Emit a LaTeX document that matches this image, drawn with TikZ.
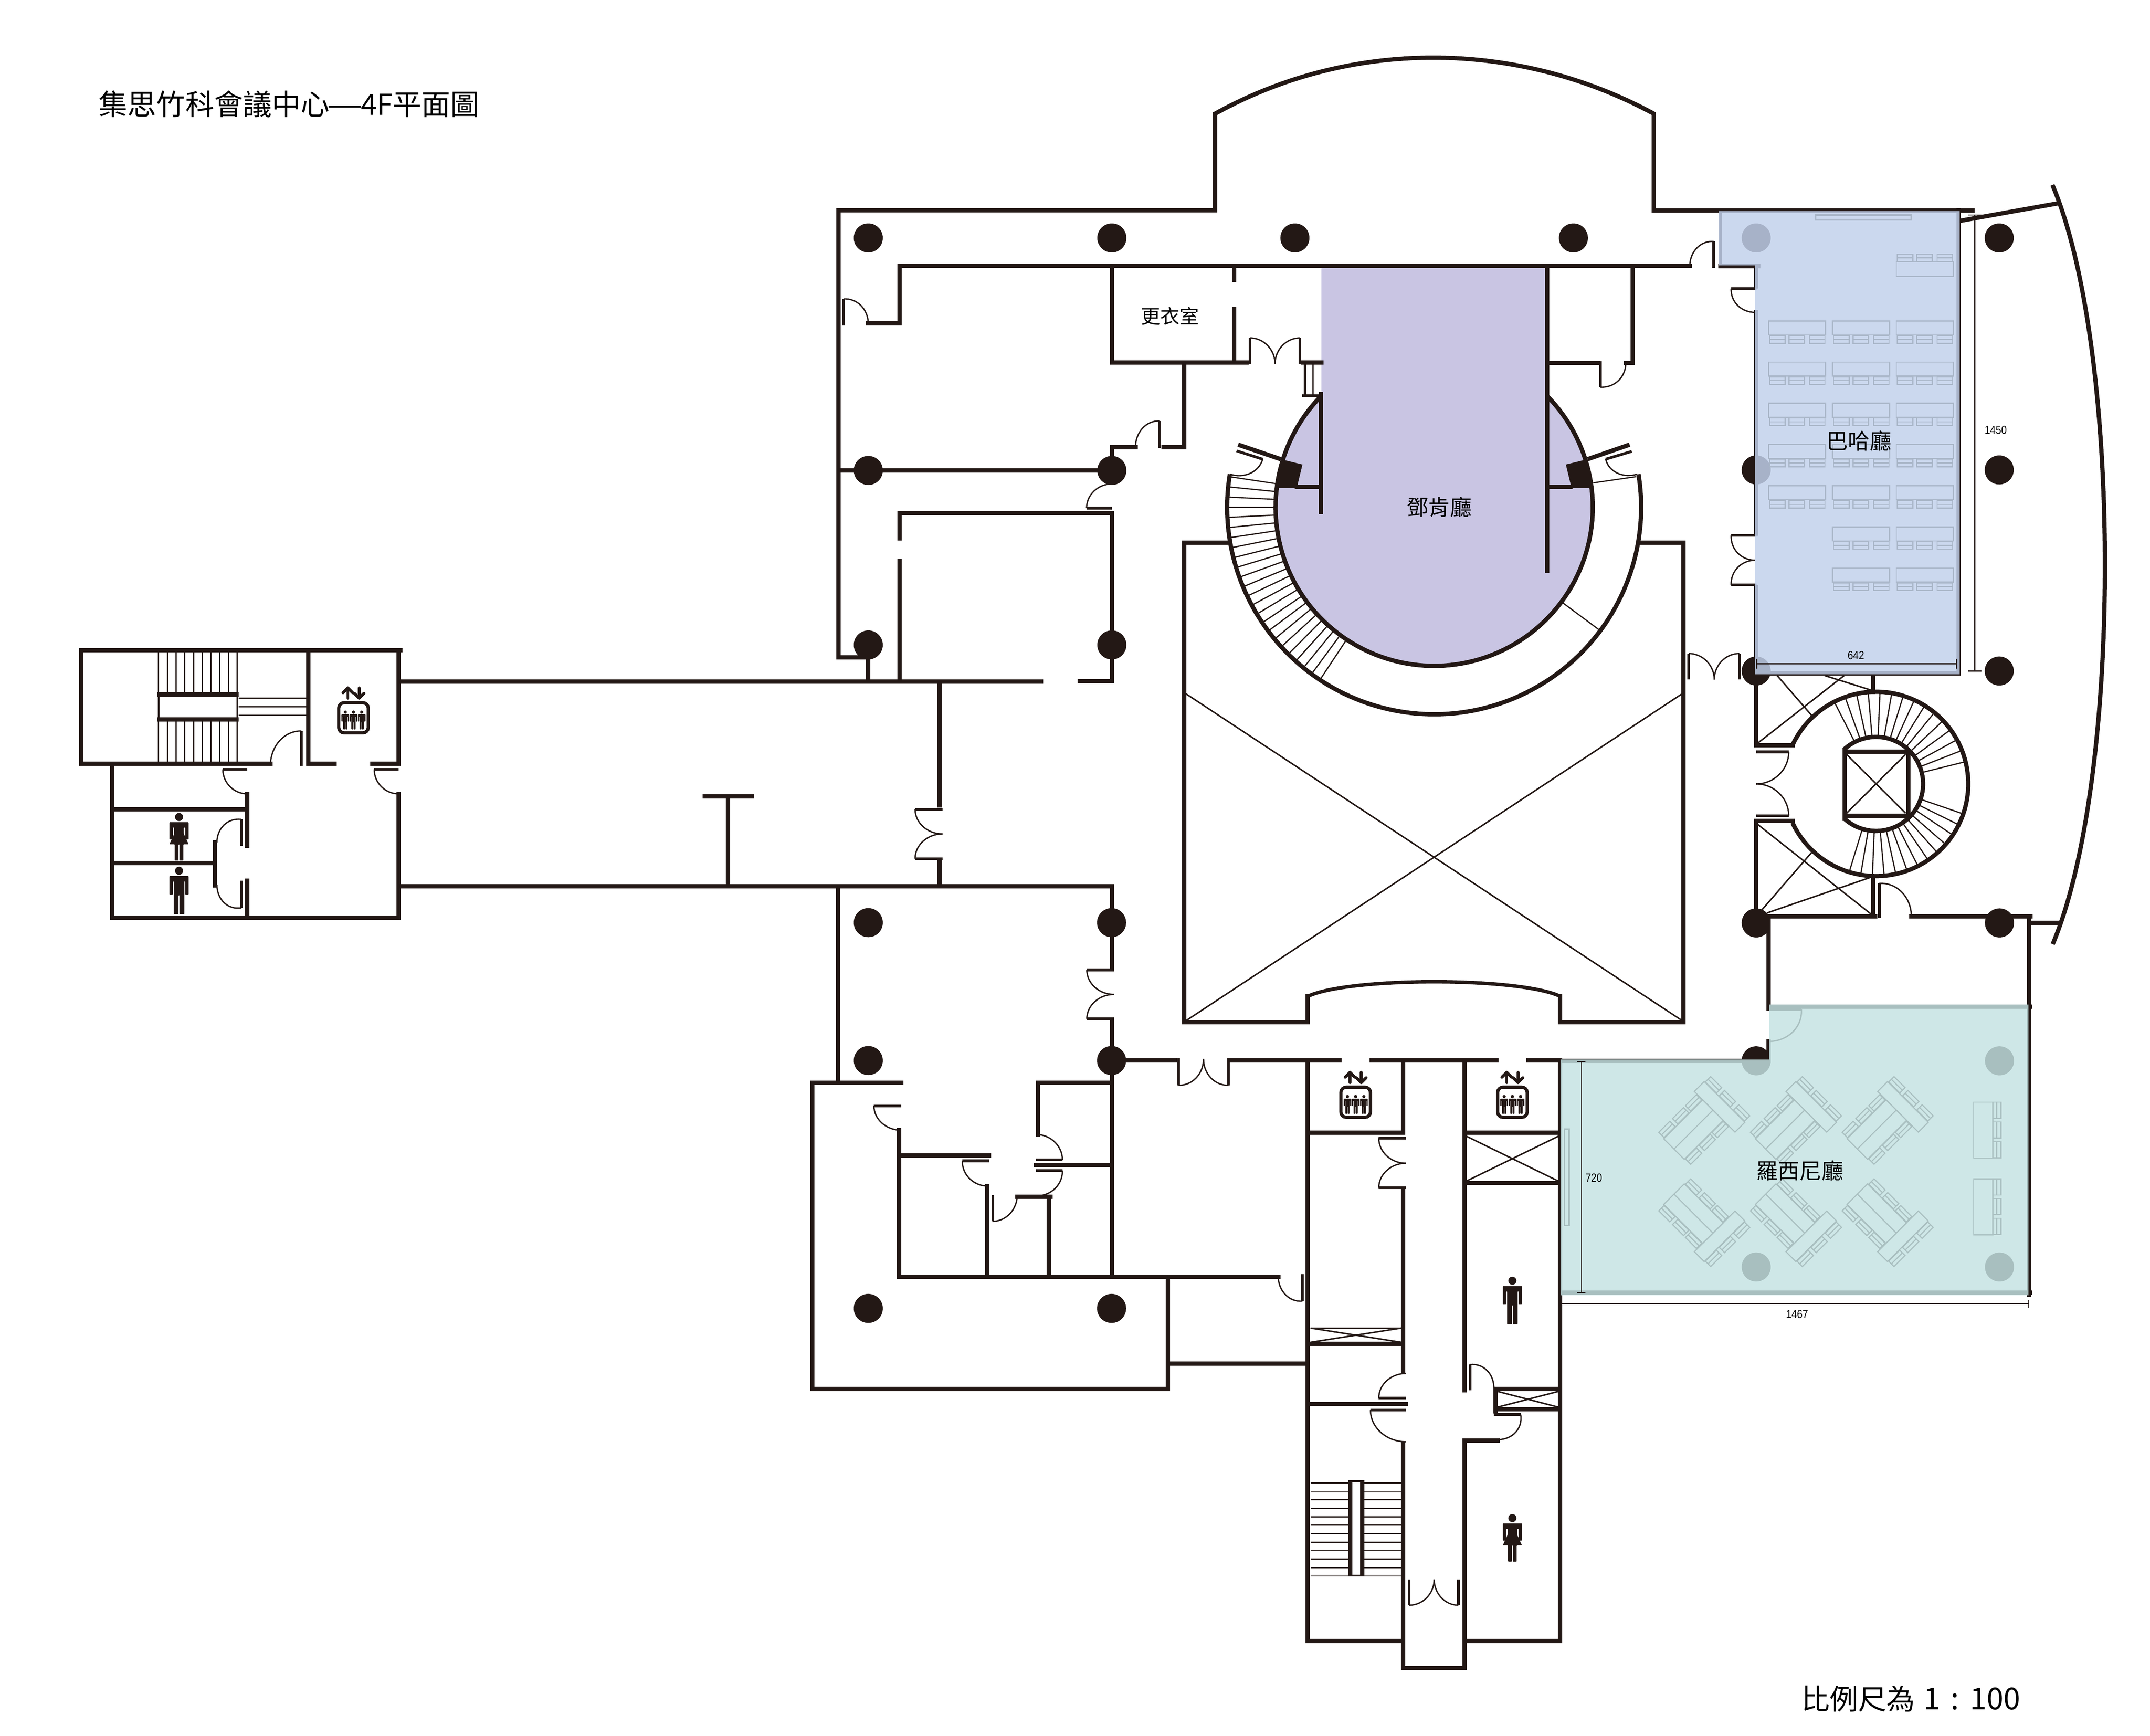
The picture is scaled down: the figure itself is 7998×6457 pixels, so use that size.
\documentclass[tikz,border=0pt]{standalone}
\usepackage{fontspec}
\setmainfont{Noto Sans CJK TC}
\newfontfamily\dimfont{Liberation Sans}
\usetikzlibrary{arrows,calc}
\definecolor{ink}{HTML}{231815}
\definecolor{duncan}{HTML}{C9C5E3}
\definecolor{bachhue}{RGB}{193,208,235}
\definecolor{rossinihue}{RGB}{196,226,226}
\definecolor{bachline}{HTML}{A9B6C8}
\definecolor{rossiniline}{HTML}{A9BFC0}
\newcommand{\doorway}[3]{
\coordinate (dc) at ($(#2)+(#3)-(#1)$);
\draw[leaf] (#1) -- (#2);
\draw[swing] (#2) .. controls ($(#2)!.55!(dc)$) and ($(#3)!.55!(dc)$) .. (#3);
}
\newcommand{\manfig}[3]{
\begin{scope}[shift={(#1,#2)},scale=#3]
\fill[ink] (0,-41) circle (8.5);
\fill[ink,rounded corners=.02cm] (-20,-30) -- (20,-30) -- (20,9) -- (13,9) -- (13,-19) -- (11,-19) -- (11,50) -- (1,50) -- (1,10) -- (-1,10) -- (-1,50) -- (-11,50) -- (-11,-19) -- (-13,-19) -- (-13,9) -- (-20,9) -- cycle;
\end{scope}
}
\newcommand{\womanfig}[3]{
\begin{scope}[shift={(#1,#2)},scale=#3]
\fill[ink] (0,-41) circle (8.5);
\fill[ink,rounded corners=.02cm] (-20,-30) -- (20,-30) -- (20,6) -- (13,6) -- (13,-19) -- (10,-19) -- (10,-6) -- (20,16) -- (9,16) -- (9,50) -- (1,50) -- (1,16) -- (-1,16) -- (-1,50) -- (-9,50) -- (-9,16) -- (-20,16) -- (-10,-6) -- (-10,-19) -- (-13,-19) -- (-13,6) -- (-20,6) -- cycle;
\end{scope}
}
\newcommand{\liftsign}[2]{
\draw[ink,line width=.12cm,rounded corners=.2cm] (#1-55,#2-56) rectangle (#1+55,#2+56);
\draw[ink,line width=.11cm,line cap=round,line join=round] (#1-21,#2-73) -- (#1-21,#2-111);
\draw[ink,line width=.11cm,line cap=round,line join=round] (#1-39,#2-93) -- (#1-21,#2-111) -- (#1-3,#2-93);
\draw[ink,line width=.11cm,line cap=round,line join=round] (#1+21,#2-111) -- (#1+21,#2-73);
\draw[ink,line width=.11cm,line cap=round,line join=round] (#1+3,#2-91) -- (#1+21,#2-73) -- (#1+39,#2-91);
\manfig{#1-30.5}{#2+8}{.71}
\manfig{#1}{#2+8}{.71}
\manfig{#1+30.5}{#2+8}{.71}
}
\newcommand{\deskrow}[3]{
\draw[#3] (#1,#2) rectangle ++(212,52);
\foreach \s in {4,76,152} {
\draw[#3] (#1+\s,#2+55) rectangle ++(58,28);
\draw[#3] (#1+\s,#2+69) -- ++(58,0);
}
}
\newcommand{\deskset}{
\draw[rossinifurn] (0,0) rectangle (205,108);
\draw[rossinifurn] (0,54) -- (205,54);
\draw[rossinifurn] (205,-44) rectangle (257,170);
\foreach \s in {-40,33,108} {
\draw[rossinifurn] (259,\s) rectangle ++(28,58);
\draw[rossinifurn] (273,\s) -- ++(0,58);
}
\foreach \s in {4,76,144} {
\draw[rossinifurn] (\s,-30) rectangle ++(58,28);
\draw[rossinifurn] (\s,-16) -- ++(58,0);
\draw[rossinifurn] (\s,110) rectangle ++(58,28);
\draw[rossinifurn] (\s,124) -- ++(58,0);
}
}
\begin{document}
\begin{tikzpicture}[x=.01cm,y=-.01cm]
\tikzstyle{every node}=[inner sep=0pt]
\tikzstyle{wall}=[ink,line width=.16cm,line cap=rect]
\tikzstyle{ringwall}=[ink,line width=.16cm]
\tikzstyle{fine}=[ink,line width=.055cm]
\tikzstyle{tread}=[ink,line width=.045cm]
\tikzstyle{leaf}=[ink,line width=.1cm]
\tikzstyle{swing}=[ink,line width=.05cm]
\tikzstyle{pillar}=[ink]
\tikzstyle{bachfurn}=[bachline,line width=.04cm]
\tikzstyle{rossinifurn}=[rossiniline,line width=.04cm]
\tikzstyle{dimline}=[ink,line width=.035cm]
\useasboundingbox (0,0) rectangle (7998,6457);
\fill[duncan] (4916,990) rectangle (5755,1887);
\fill[duncan] (5335,1887) circle (590);
\foreach \a/\b in {3230/885,4136/885,4817/885,5853/885,6533/885,7437/885,3230/1750,4136/1750,6533/1748,7437/1748,3230/2399,4136/2399,6533/2496,7437/2496,3230/3432,4135/3432,6533/3433,7438/3433,3230/3945,4135/3945,6533/3946,7438/3946,6533/4713,7438/4713,3230/4867,4135/4867} {
\fill[pillar] (\a,\b) circle (54);
}
\draw[wall] (3230,2445) -- (3119,2445) -- (3119,782) -- (4520,782) -- (4520,423) .. controls (5022,145) and (5638,145) .. (6152,423) -- (6152,783) -- (7338,783);
\draw[wall] (7294,821) -- (7652,757);
\draw[ink,line width=.16cm] (7635,688) .. controls (7895,1300) and (7895,2900) .. (7636,3512);
\draw[wall] (3230,2445) -- (3230,2533);
\draw[wall] (3346,1203) -- (3346,988) -- (6286,988);
\draw[wall] (3230,1203) -- (3346,1203);
\draw[wall] (6400,990) -- (6540,990);
\draw[ink,line width=.1cm] (6400,783) -- (6400,990);
\draw[wall] (3119,1750) -- (4136,1750);
\draw[wall] (4136,988) -- (4136,1349) -- (4637,1349);
\draw[wall] (4848,1349) -- (4916,1349);
\draw[wall] (4591,988) -- (4591,1042);
\draw[wall] (4591,1148) -- (4591,1349);
\draw[wall] (4406,1349) -- (4406,1663) -- (4329,1663);
\draw[wall] (4224,1663) -- (4136,1663) -- (4136,1750);
\draw[wall] (4136,2533) -- (4136,1909) -- (3346,1909) -- (3346,2003);
\draw[wall] (3346,2087) -- (3346,2533);
\draw[wall] (1490,2535) -- (3873,2535);
\draw[wall] (4016,2533) -- (4136,2533);
\draw[wall] (1490,3297) -- (4136,3297) -- (4136,3602);
\draw[wall] (4136,3803) -- (4136,4747);
\draw[wall] (3117,3297) -- (3117,4028);
\draw[wall] (3495,2535) -- (3495,2996);
\draw[wall] (3495,3207) -- (3495,3297);
\draw[wall] (2622,2962) -- (2797,2962);
\draw[wall] (2708,2962) -- (2708,3297);
\draw[ink,line width=.09cm] (4855,1350) -- (4855,1472);
\draw[ink,line width=.05cm] (4885,1350) -- (4885,1472);
\draw[ink,line width=.09cm] (4844,1472) -- (4920,1472);
\draw[wall] (4914,1465) -- (4914,1905);
\draw[wall] (5755,990) -- (5755,2123);
\draw[wall] (4824,1811) -- (4909,1811);
\draw[wall] (5763,1811) -- (5842,1811);
\fill[ink] (4764,1708) -- (4845,1728) -- (4824,1815) -- (4743,1815) -- cycle;
\fill[ink] (5906,1708) -- (5825,1728) -- (5846,1815) -- (5927,1815) -- cycle;
\draw[ringwall] (4606,1654) -- (4764,1708);
\draw[ringwall] (6062,1654) -- (5906,1708);
\draw[ringwall] plot[domain=-44.7:224.7,samples=120] ({5335+590*cos(\x)},{1887+590*sin(\x)});
\draw[ringwall] plot[domain=-9.2:189.2,samples=120] ({5335+770*cos(\x)},{1887+770*sin(\x)});
\foreach \t in {0,...,23} {
\draw[tread] ({5335+590*cos(188.5-\t*2.826)},{1887+590*sin(188.5-\t*2.826)}) -- ({5335+770*cos(188.5-\t*2.826)},{1887+770*sin(188.5-\t*2.826)});
}
\draw[tread] ({5335+590*cos(36.6)},{1887+590*sin(36.6)}) -- ({5335+770*cos(36.6)},{1887+770*sin(36.6)});
\draw[tread] (5927,1796) -- (6087,1773);
\draw[wall] (4406,2019) -- (4570,2019);
\draw[wall] (6096,2019) -- (6262,2019) -- (6262,3803) -- (5804,3803) -- (5804,3706);
\draw[wall] (4570,2019) -- (4406,2019) -- (4406,3803) -- (4865,3803) -- (4865,3706);
\draw[ink,line width=.13cm] (4865,3706) .. controls (5020,3634) and (5650,3634) .. (5804,3706);
\draw[fine] (4406,2577) -- (6263,3800);
\draw[fine] (6263,2577) -- (4407,3800);
\draw[wall] (6074,990) -- (6074,1350) ;
\draw[wall] (5755,1350) -- (5944,1350);
\draw[wall] (6048,1350) -- (6074,1350);
\draw[wall] (6533,990) -- (6533,1065);
\draw[wall] (6533,1162) -- (6533,1985);
\draw[wall] (6533,2185) -- (6533,2772) -- (6668,2772);
\draw[wall] (6533,3053) -- (6668,3053);
\draw[wall] (6533,3053) -- (6533,3420);
\draw[wall] (7286,783) -- (7286,2505);
\draw[wall] (6533,2505) -- (7286,2505);
\draw[wall] (6968,2507) -- (6968,2574);
\draw[wall] (6968,3260) -- (6968,3408);
\draw[ringwall] plot[domain=-155.1:155.1,samples=90] ({6979+343*cos(\x)},{2916+343*sin(\x)});
\draw[ringwall] plot[domain=-132:132,samples=70] ({6979+175*cos(\x)},{2916+175*sin(\x)});
\draw[wall] (6862,2789) -- (6862,3046);
\draw[wall] (6862,2796) -- (7099,2796) -- (7099,3034) -- (6862,3034);
\draw[fine] (6869,2806) -- (7089,3025);
\draw[fine] (7089,2806) -- (6869,3025);
\foreach \t in {0,...,14} {
\draw[tread] ({6979+175*cos(-117+\t*7.36)},{2916+175*sin(-117+\t*7.36)}) -- ({6979+343*cos(-117+\t*7.36)},{2916+343*sin(-117+\t*7.36)});
}
\foreach \t in {0,...,12} {
\draw[tread] ({6979+175*cos(19+\t*7.33)},{2916+175*sin(19+\t*7.33)}) -- ({6979+343*cos(19+\t*7.33)},{2916+343*sin(19+\t*7.33)});
}
\draw[fine] (6611,2513) -- (6740,2662);
\draw[fine] (6860,2513) -- (6539,2764);
\draw[fine] (6788,2513) -- (6960,2567);
\draw[fine] (6539,3067) -- (6960,3400);
\draw[fine] (6740,3170) -- (6553,3386);
\draw[fine] (6960,3263) -- (6573,3396);
\draw[wall] (6573,3408) -- (6976,3408);
\draw[wall] (7110,3408) -- (7553,3408);
\draw[wall] (7549,3408) -- (7549,4816);
\draw[wall] (7549,3433) -- (7654,3433);
\draw[wall] (6579,3408) -- (6579,3745) -- (7551,3745);
\draw[wall] (6579,3874) -- (6579,3946);
\draw[wall] (5804,3945) -- (5804,4816);
\draw[wall] (5804,4809) -- (7551,4809);
\draw[wall] (5804,3946) -- (6579,3946);
\draw[wall] (3022,4028) -- (3352,4028);
\draw[wall] (3022,4028) -- (3022,5167) -- (4345,5167) -- (4345,4749);
\draw[wall] (3345,4204) -- (3345,4749);
\draw[wall] (3345,4298) -- (3679,4298);
\draw[wall] (3672,4412) -- (3672,4749);
\draw[wall] (3345,4749) -- (4755,4749);
\draw[wall] (3902,4452) -- (3902,4749);
\draw[wall] (3784,4452) -- (3907,4452);
\draw[wall] (3861,4028) -- (4136,4028);
\draw[wall] (3861,4028) -- (3861,4220);
\draw[wall] (3854,4334) -- (4136,4334);
\draw[wall] (4345,5072) -- (4864,5072);
\draw[wall] (4865,3945) -- (4865,6104) -- (5220,6104);
\draw[wall] (4136,3945) -- (4370,3945);
\draw[wall] (4581,3945) -- (4983,3945);
\draw[wall] (5103,3945) -- (5566,3945);
\draw[wall] (5685,3945) -- (5804,3945);
\draw[wall] (5220,3945) -- (5220,4214);
\draw[wall] (4865,4214) -- (5220,4214);
\draw[wall] (5220,4430) -- (5220,5104);
\draw[wall] (4865,4998) -- (5220,4998);
\draw[wall] (4865,5222) -- (5230,5222);
\draw[wall] (5220,5371) -- (5220,6204) -- (5448,6204);
\draw[wall] (5448,6204) -- (5448,5358) -- (5572,5358);
\draw[wall] (5448,3945) -- (5448,5172);
\draw[wall] (5448,4214) -- (5802,4214);
\draw[wall] (5448,4400) -- (5802,4400);
\draw[wall] (5448,6104) -- (5804,6104) -- (5804,4816);
\draw[wall] (5563,5250) -- (5563,5167) -- (5804,5167);
\draw[wall] (5563,5242) -- (5804,5242);
\draw[fine] (5456,4227) -- (5796,4393);
\draw[fine] (5456,4393) -- (5796,4227);
\draw[fine] (4875,4940) -- (5213,4993);
\draw[fine] (4875,4993) -- (5213,4940);
\draw[fine] (4875,4940) -- (5213,4940);
\draw[fine] (5572,5176) -- (5796,5234);
\draw[fine] (5572,5234) -- (5796,5176);
\foreach \k in {0,...,11} {
\draw[tread] (4875,5516+\k*31.5) -- (5014,5516+\k*31.5);
\draw[tread] (5075,5516+\k*31.5) -- (5213,5516+\k*31.5);
}
\draw[ink,line width=.16cm] (5022,5507) -- (5022,5864);
\draw[ink,line width=.16cm] (5067,5507) -- (5067,5864);
\draw[ink,line width=.07cm] (5014,5510) -- (5075,5510);
\draw[ink,line width=.07cm] (5014,5861) -- (5075,5861);
\draw[wall] (302,2419) -- (1490,2419);
\draw[wall] (302,2419) -- (302,2841) -- (1006,2841);
\draw[wall] (1147,2841) -- (1245,2841);
\draw[wall] (1386,2841) -- (1483,2841);
\draw[wall] (1147,2419) -- (1147,2841);
\draw[wall] (1483,2419) -- (1483,2841);
\draw[wall] (1483,2953) -- (1483,3413) -- (417,3413) -- (417,2849);
\draw[wall] (920,2953) -- (920,3146);
\draw[wall] (920,3276) -- (920,3413);
\draw[wall] (417,3010) -- (920,3010);
\draw[wall] (417,3211) -- (800,3211);
\draw[wall] (800,3133) -- (800,3293);
\foreach \k in {0,...,9} {
\draw[tread] (590+\k*32.5,2426) -- (590+\k*32.5,2575);
\draw[tread] (590+\k*32.5,2684) -- (590+\k*32.5,2833);
}
\draw[ink,line width=.16cm] (586,2583) -- (887,2583);
\draw[ink,line width=.16cm] (586,2676) -- (887,2676);
\draw[ink,line width=.07cm] (590,2575) -- (590,2684);
\draw[ink,line width=.07cm] (883,2575) -- (883,2684);
\draw[tread] (887,2597) -- (1147,2597);
\draw[tread] (887,2629) -- (1147,2629);
\draw[tread] (887,2661) -- (1147,2661);
\doorway{3138,1211}{3138,1112}{3230,1205}
\doorway{4650,1354}{4650,1257}{4743,1354}
\doorway{4836,1354}{4836,1257}{4743,1354}
\doorway{4313,1667}{4313,1566}{4224,1663}
\doorway{4137,1890}{4042,1890}{4137,1800}
\doorway{6375,996}{6375,898}{6286,990}
\doorway{6534,1074}{6440,1074}{6529,1162}
\doorway{6534,1992}{6440,1992}{6529,2084}
\doorway{6534,2176}{6440,2176}{6529,2084}
\doorway{4600,1677}{4697,1708}{4576,1764}
\doorway{6070,1679}{5973,1708}{6090,1764}
\doorway{6282,2528}{6282,2431}{6377,2528}
\doorway{6470,2528}{6470,2431}{6377,2528}
\doorway{6533,2797}{6654,2797}{6533,2916}
\doorway{6533,3034}{6654,3034}{6533,2916}
\doorway{6991,3415}{6991,3286}{7110,3408}
\doorway{6571,3755}{6701,3755}{6579,3874}
\doorway{3506,3010}{3404,3010}{3506,3102}
\doorway{3506,3194}{3404,3194}{3506,3102}
\doorway{1121,2849}{1121,2719}{1006,2847}
\doorway{920,2862}{829,2862}{920,2953}
\doorway{1483,2862}{1392,2862}{1483,2953}
\doorway{898,3146}{898,3048}{807,3134}
\doorway{898,3276}{898,3377}{807,3291}
\doorway{3352,4114}{3251,4114}{3352,4204}
\doorway{3679,4318}{3580,4318}{3676,4412}
\doorway{3693,4445}{3693,4543}{3784,4445}
\doorway{3854,4314}{3952,4314}{3854,4220}
\doorway{3854,4354}{3952,4354}{3857,4448}
\doorway{4845,4740}{4845,4840}{4755,4747}
\doorway{4144,3608}{4043,3608}{4144,3699}
\doorway{4144,3790}{4043,3790}{4144,3699}
\doorway{4384,3936}{4384,4037}{4477,3939}
\doorway{4570,3936}{4570,4037}{4477,3939}
\doorway{5230,4234}{5129,4234}{5230,4327}
\doorway{5230,4418}{5129,4418}{5230,4327}
\doorway{5230,5200}{5129,5200}{5230,5109}
\doorway{5230,5245}{5098,5245}{5230,5363}
\doorway{5242,5875}{5242,5971}{5335,5875}
\doorway{5425,5875}{5425,5971}{5335,5875}
\doorway{5469,5172}{5469,5076}{5557,5162}
\doorway{5557,5262}{5657,5262}{5572,5355}
\doorway{5954,1344}{5954,1440}{6048,1350}
\fill[bachhue,fill opacity=.84] (6394,785) -- (7290,785) -- (7290,2508) -- (6528,2508) -- (6528,987) -- (6394,987) -- cycle;
\fill[rossinihue,fill opacity=.83] (5806,3941) -- (6581,3941) -- (6581,3737) -- (7546,3737) -- (7546,4818) -- (5806,4818) -- cycle;
\draw[bachfurn,line width=.06cm] (6754,800) rectangle (7110,817);
\foreach \b in {1194,1347,1500,1653,1807} {
\deskrow{6579}{\b}{bachfurn}
}
\foreach \b in {1194,1347,1500,1653,1807,1960,2113} {
\deskrow{6817}{\b}{bachfurn}
\deskrow{7054}{\b}{bachfurn}
}
\draw[bachfurn] (7054,974) rectangle ++(212,54);
\foreach \s in {4,76,152} {
\draw[bachfurn] (7054+\s,945) rectangle ++(58,28);
\draw[bachfurn] (7054+\s,959) -- ++(58,0);
}
\foreach \a in {6189,6530,6871} {
\begin{scope}[shift={(\a,4236)},rotate=45]
\deskset
\end{scope}
\begin{scope}[shift={(\a,4480)},rotate=-45,yscale=-1]
\deskset
\end{scope}
}
\foreach \b in {4100,4385} {
\draw[rossinifurn] (7342,\b) rectangle (7413,\b+208);
\foreach \s in {0,73,147} {
\draw[rossinifurn] (7413,\b+\s) rectangle ++(31,60);
\draw[rossinifurn] (7428,\b+\s) -- ++(0,60);
}
}
\draw[rossiniline,line width=.06cm] (5820,4200) rectangle (5837,4558);
\draw[dimline] (7346,800) -- (7346,2496);
\draw[dimline] (7321,800) -- (7371,800);
\draw[dimline] (7321,2496) -- (7371,2496);
\draw[dimline] (6535,2469) -- (7279,2469);
\draw[dimline] (6535,2450) -- (6535,2488);
\draw[dimline] (7279,2450) -- (7279,2488);
\draw[dimline] (5883,3950) -- (5883,4808);
\draw[dimline] (5868,3950) -- (5898,3950);
\draw[dimline] (5868,4808) -- (5898,4808);
\draw[dimline] (5812,4850) -- (7547,4850);
\draw[dimline] (7547,4836) -- (7547,4866);
\manfig{666}{3312}{1.78}
\womanfig{666}{3112}{1.78}
\manfig{5626}{4837}{1.78}
\womanfig{5626}{5720}{1.78}
\liftsign{1315}{2670}
\liftsign{5043}{4100}
\liftsign{5626}{4100}
\draw (367,388) node (maintitle) [anchor=west] {\fontsize{30.5pt}{36pt}\selectfont 集思竹科會議中心\hspace{-.08em}\scalebox{1.4}[1]{—}\hspace{-.08em}4F平面圖};
\draw (6701,6319) node (scalenote) [anchor=west] {\fontsize{30pt}{36pt}\selectfont 比例尺為\hspace{.3em}\fontsize{32pt}{36pt}\selectfont 1\hspace{.35em}:\hspace{.35em}100};
\draw (4352,1176) node (dressing) {\fontsize{20.5pt}{24pt}\selectfont 更衣室};
\draw (5354,1886) node (duncanhall) {\fontsize{23pt}{28pt}\selectfont 鄧肯廳};
\draw (6915,1640) node (bachhall) {\fontsize{23pt}{28pt}\selectfont 巴哈廳};
\draw (6695,4354) node (rossinihall) {\fontsize{23pt}{28pt}\selectfont 羅西尼廳};
\draw (7424,1600) node (dimheight) {\dimfont\fontsize{12.5pt}{14pt}\selectfont\scalebox{.84}[1]{1450}};
\draw (6904,2438) node (dimwidth) {\dimfont\fontsize{12.5pt}{14pt}\selectfont\scalebox{.84}[1]{642}};
\draw (5929,4382) node (dimdepth) {\dimfont\fontsize{12.5pt}{14pt}\selectfont\scalebox{.84}[1]{720}};
\draw (6685,4889) node (dimspan) {\dimfont\fontsize{12.5pt}{14pt}\selectfont\scalebox{.84}[1]{1467}};
\end{tikzpicture}
\end{document}
